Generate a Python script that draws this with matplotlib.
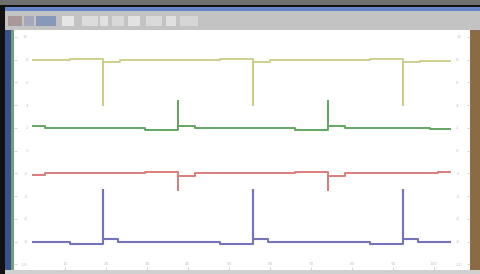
import matplotlib
matplotlib.use("Agg")
import matplotlib.pyplot as plt
from matplotlib.patches import Rectangle

W, H = 481, 274

# trace breakpoints (time units, signal units), drawn as steps
yellow_t = [0.22, 1.12, 1.93, 1.93, 2.34, 4.78, 5.59, 5.59, 6.0, 8.44, 9.24, 9.24, 9.66, 10.39]
yellow_v = [9.0, 9.05, 7.0, 8.9, 9.0, 9.05, 7.0, 8.9, 9.0, 9.05, 7.0, 8.9, 8.95, 8.95]

green_t = [0.22, 0.51, 2.95, 3.76, 3.76, 4.17, 6.61, 7.41, 7.41, 7.83, 9.9, 10.39]
green_v = [6.08, 6.0, 5.9, 7.2, 6.1, 6.0, 5.9, 7.2, 6.1, 6.0, 5.93, 5.93]

red_t = [0.22, 0.51, 2.95, 3.76, 3.76, 4.17, 6.61, 7.41, 7.41, 7.83, 10.1, 10.39]
red_v = [3.92, 4.0, 4.08, 3.26, 3.9, 4.0, 4.08, 3.26, 3.9, 4.0, 4.07, 4.07]

blue_t = [0.22, 1.12, 1.93, 1.93, 2.3, 4.78, 5.59, 5.59, 5.95, 8.44, 9.24, 9.24, 9.6, 10.39]
blue_v = [1.0, 0.9, 3.26, 1.13, 1.0, 0.9, 3.26, 1.13, 1.0, 0.9, 3.26, 1.13, 1.0, 1.0]

x_ticks = list(range(1, 11))
x_labels = ["10", "20", "30", "40", "50", "60", "70", "80", "90", "100"]
y_ticks = list(range(0, 11))
y_labels = ["-10", "-8", "-6", "-4", "-2", "0", "2", "4", "6", "8", "10"]


def box(fig, x, y, w, h, color):
    """Rectangle given in pixels from the top-left corner."""
    fig.add_artist(Rectangle((x / W, 1 - (y + h) / H), w / W, h / H,
                             transform=fig.transFigure, color=color, lw=0))


fig = plt.figure(figsize=(W / 100, H / 100), dpi=100, facecolor="#6f6f6f")

# window chrome
box(fig, 0, 5, 481, 269, "#111111")
box(fig, 5, 7, 476, 4, "#6484c8")
box(fig, 5, 11, 476, 19, "#c3c3c3")
box(fig, 5, 30, 7, 244, "#3b4f8e")
box(fig, 11, 30, 3, 244, "#6ea070")
box(fig, 14, 30, 456, 241, "#ffffff")
box(fig, 470, 30, 11, 244, "#8c6a44")
box(fig, 5, 270, 476, 4, "#d0d0d0")
for bx, bw, c in [(8, 14, "#a89898"), (24, 10, "#a4a8b8"), (36, 20, "#8898b8"),
                  (62, 12, "#e6e6e6"), (82, 16, "#dcdcdc"), (100, 8, "#e0e0e0"),
                  (112, 12, "#d8d8d8"), (128, 12, "#e2e2e2"), (146, 16, "#dadada"),
                  (166, 10, "#e0e0e0"), (180, 18, "#d6d6d6")]:
    box(fig, bx, 16, bw, 10, c)

ax = fig.add_axes([14 / W, 1 - 270 / H, 456 / W, 239 / H])
ax.set_zorder(10)
ax.set_facecolor("none")
ax.set_xlim(-0.24, 10.88)
ax.set_ylim(-0.25, 10.26)
for s in ax.spines.values():
    s.set_visible(False)

ax.plot(yellow_t, yellow_v, drawstyle="steps-post", color="#cccc88", lw=1.3)
ax.plot(green_t, green_v, drawstyle="steps-post", color="#62a662", lw=1.4)
ax.plot(red_t, red_v, drawstyle="steps-post", color="#dc7c7c", lw=1.4)
ax.plot(blue_t, blue_v, drawstyle="steps-post", color="#7474bc", lw=1.5)

ax.set_xticks(x_ticks, x_labels)
ax.set_yticks(y_ticks, y_labels)
ax.tick_params(axis="both", direction="in", length=2, width=0.5,
               colors="#c4c4c4", labelsize=3)
ax.tick_params(axis="x", pad=-6)
ax.tick_params(axis="y", pad=-10, right=True, labelright=True)

fig.savefig("out.png", dpi=100, facecolor=fig.get_facecolor())
